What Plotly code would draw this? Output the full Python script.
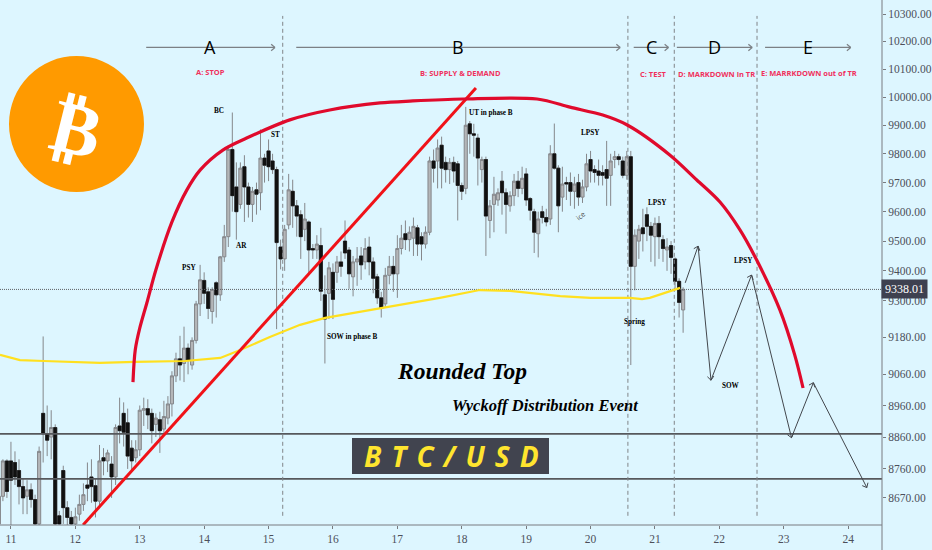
import math
import numpy as np
import plotly.graph_objects as go

# ---------- data ----------
first_day = 10.8125
candle_step_days = 1.5 / 24
opens = [
8590,8675,8785,8785,8780,8755,8705,8675,8695,8665,
8590,8935,8870,8860,8890,8615,8755,8640,8610,8590,
8620,8650,8710,8735,8708,8660,8795,8785,8775,8735,
8895,8935,8905,8825,8795,8820,8945,8950,8935,8900,
8915,8885,8920,8965,9055,9110,9095,9145,9090,9170,
9290,9368,9330,9265,9360,9320,9447,9515,9815,9685,
9625,9755,9685,9625,9675,9665,9785,9810,9775,9745,
9480,9440,9555,9670,9620,9590,9540,9565,9475,9470,
9485,9320,9325,9395,9395,9430,9500,9470,9380,9430,
9450,9430,9480,9430,9380,9310,9290,9385,9415,9390,
9475,9525,9505,9510,9545,9515,9490,9530,9775,9775,
9830,9770,9745,9770,9765,9690,9680,9905,9870,9855,
9745,9780,9570,9625,9640,9705,9665,9620,9655,9705,
9680,9730,9645,9600,9525,9600,9580,9575,9800,9750,
9650,9700,9700,9670,9700,9650,9685,9780,9745,9740,
9735,9745,9725,9780,9790,9775,9725,9790,9415,9500,
9545,9590,9550,9515,9560,9505,9470,9485,9440,9365,9270]
highs = [
8690,8790,8790,8845,8815,8790,8730,8725,8715,8680,
8830,9183,8960,8945,8900,8630,8770,8660,8630,8640,
8680,8715,8780,8790,8730,8835,8825,8820,8800,8900,
8985,8970,8950,8850,8850,8960,8985,8980,8950,8935,
8940,8975,8990,9070,9130,9185,9215,9160,9180,9300,
9420,9395,9345,9345,9365,9450,9555,9830,9945,9770,
9770,9795,9700,9685,9700,9885,9800,9850,9800,9755,
9505,9555,9730,9710,9640,9605,9630,9570,9490,9520,
9545,9385,9430,9425,9450,9465,9570,9480,9450,9480,
9480,9510,9515,9445,9390,9330,9410,9450,9450,9520,
9555,9570,9550,9580,9555,9530,9550,9790,9815,9850,
9860,9790,9785,9790,9775,9700,9965,9915,9905,9870,
9790,9790,9640,9720,9680,9740,9680,9670,9730,9740,
9755,9750,9650,9610,9600,9620,9610,9830,9906,9760,
9755,9720,9735,9720,9730,9710,9800,9810,9760,9780,
9760,9845,9800,9810,9800,9790,9810,9810,9540,9555,
9610,9615,9565,9580,9585,9520,9510,9500,9445,9375,9345]
lows = [
8585,8660,8670,8585,8710,8650,8620,8620,8640,8580,
8585,8780,8800,8790,8580,8580,8590,8580,8585,8585,
8600,8630,8660,8655,8610,8640,8740,8750,8670,8710,
8840,8830,8760,8750,8780,8800,8895,8885,8840,8860,
8810,8865,8900,8925,9035,9040,9035,9060,9075,9160,
9250,9290,9240,9225,9245,9300,9430,9480,9600,9505,
9610,9565,9580,9565,9590,9605,9700,9705,9730,9207,
9405,9400,9540,9545,9515,9440,9500,9390,9440,9440,
9300,9095,9240,9240,9360,9380,9440,9340,9315,9350,
9370,9405,9385,9325,9290,9245,9280,9355,9330,9310,
9455,9470,9465,9450,9450,9435,9475,9520,9700,9680,
9680,9700,9695,9700,9570,9640,9660,9800,9790,9690,
9700,9450,9510,9530,9620,9590,9525,9600,9620,9650,
9660,9620,9570,9460,9445,9560,9550,9555,9745,9530,
9600,9640,9620,9610,9620,9630,9670,9700,9700,9690,
9690,9620,9620,9750,9760,9715,9710,9090,9335,9440,
9465,9500,9430,9415,9440,9430,9400,9390,9340,9245,9195]
closes = [
8675,8785,8690,8725,8735,8705,8670,8695,8665,8590,
8815,8870,8850,8890,8590,8590,8640,8610,8590,8612,
8650,8680,8700,8705,8660,8785,8785,8810,8735,8890,
8880,8875,8800,8785,8820,8945,8950,8930,8880,8920,
8880,8925,8965,9055,9110,9090,9145,9105,9170,9290,
9370,9325,9275,9338,9320,9447,9515,9815,9655,9600,
9750,9685,9625,9670,9660,9785,9760,9755,9745,9495,
9440,9540,9675,9620,9585,9515,9575,9470,9470,9490,
9332,9240,9410,9305,9430,9415,9460,9390,9430,9440,
9420,9475,9430,9375,9310,9275,9385,9415,9390,9475,
9510,9505,9530,9550,9490,9490,9530,9775,9750,9820,
9750,9745,9770,9740,9690,9670,9900,9870,9865,9785,
9780,9585,9620,9660,9665,9665,9625,9655,9705,9680,
9715,9640,9605,9530,9575,9580,9565,9800,9750,9620,
9695,9695,9670,9695,9650,9685,9765,9740,9735,9725,
9725,9715,9775,9790,9780,9725,9790,9415,9520,9540,
9525,9550,9520,9560,9515,9475,9480,9445,9365,9295,9338.01]

ma_days = [10.83,11.14,11.51,12.38,12.93,13.70,14.25,14.56,15.02,15.49,15.88,16.89,17.66,18.28,18.75,19.53,20.0,20.61,20.80,20.92,21.39]
ma_prices = [9123,9106,9103,9097,9100,9103,9113,9139,9181,9221,9244,9280,9310,9336,9333,9316,9310,9310,9306,9310,9343]

round_days = [12.895,12.93,13.0,13.11,13.25,13.50,13.73,13.94,14.29,14.66,15.33,15.95,16.73,17.24,18.02,19.17,19.68,20.19,20.57,21.23,21.65,22.01,22.32,22.58,22.94,23.17,23.30]
round_prices = [9035,9139,9210,9293,9403,9565,9674,9744,9813,9855,9919,9954,9979,9986,9993,9993,9964,9936,9901,9796,9709,9633,9538,9436,9270,9123,9016]

trend_days = [12.12,18.22]
trend_prices = [8587,10032]
level_prices = [8870,8729]
phase_days = [15.22,20.58,21.30,22.585]
phase_span = [8615,10293]
phase_arrow_price = 10178
phase_arrows = [(13.10,15.10),(15.43,20.46),(20.67,21.21),(21.34,22.51),(22.71,24.04)]
path_days = [21.47,21.67,21.87,22.50,23.12,23.46,24.29]
path_prices = [9360,9483,9041,9386,8858,9033,8702]

price_ticks = [10300,10200,10100,10000,9900,9800,9700,9600,9500,9400,9300,9180,9060,8960,8860,8760,8670]
day_ticks = list(range(11,25))

phase_letters = ["A","B","C","D","E"]
phase_titles = ["A: STOP","B: SUPPLY &amp; DEMAND","C: TEST","D: MARKDOWN in TR","E: MARRKDOWN out of TR"]
event_labels = ["BC","ST","PSY","AR","SOW in phase B","UT in phase B","LPSY","LPSY","LPSY","Spring","SOW"]

# ---------- scales ----------
W, H = 882, 525
X0, X1 = 10.83, 10.83 + W/64.4
PXD = W/(X1-X0)
PXL = 2809.0
P_TOP = 10300*math.exp(14/PXL)
P_BOT = 10300*math.exp(-511/PXL)
xs = [first_day + i*candle_step_days for i in range(len(opens))]

def head(x0,p0,x1,p1,size=5.0):
    dx=(x1-x0)*PXD; dy=(math.log(p1)-math.log(p0))*PXL
    a=math.atan2(dy,dx)
    hx=[];hy=[]
    for s in (1,-1):
        b=a+math.pi-s*0.7
        hx+= [x1+size*math.cos(b)/PXD, x1, None]
        hy+= [p1*math.exp(size*math.sin(b)/PXL), p1, None]
    return hx,hy

fig=go.Figure()
# wicks and up bodies
fig.add_trace(go.Candlestick(x=xs,open=opens,high=highs,low=lows,close=closes,
    increasing=dict(line=dict(color="#85878b",width=1),fillcolor="#b4b6b8"),
    decreasing=dict(line=dict(color="#85878b",width=1),fillcolor="#111111"),
    whiskerwidth=0,showlegend=False,hoverinfo="skip"))
# down bodies
dx=[x for x,o,c in zip(xs,opens,closes) if c<o]
do=[o for o,c in zip(opens,closes) if c<o]
dc=[c for o,c in zip(opens,closes) if c<o]
fig.add_trace(go.Candlestick(x=dx,open=do,high=do,low=dc,close=dc,
    decreasing=dict(line=dict(color="#111111",width=0.6),fillcolor="#111111"),
    increasing=dict(line=dict(color="#111111",width=0.6),fillcolor="#111111"),
    whiskerwidth=0,showlegend=False,hoverinfo="skip"))

# levels
for p in level_prices:
    fig.add_trace(go.Scatter(x=[X0,X1],y=[p,p],mode="lines",line=dict(color="#56585c",width=1.6),showlegend=False,hoverinfo="skip"))
# last price line
fig.add_trace(go.Scatter(x=[X0,X1],y=[closes[-1]]*2,mode="lines",line=dict(color="#5f6166",width=1,dash="1px,1px"),showlegend=False,hoverinfo="skip"))
# phases
for d in phase_days:
    fig.add_trace(go.Scatter(x=[d,d],y=phase_span,mode="lines",line=dict(color="#808488",width=1,dash="4px,3px"),showlegend=False,hoverinfo="skip"))
ax=[];ay=[]
for a,b in phase_arrows:
    ax+=[a,b,None];ay+=[phase_arrow_price,phase_arrow_price,None]
    hx,hy=head(a,phase_arrow_price,b,phase_arrow_price,5)
    ax+=hx;ay+=hy
fig.add_trace(go.Scatter(x=ax,y=ay,mode="lines",line=dict(color="#7c8085",width=1.2),showlegend=False,hoverinfo="skip",connectgaps=False))
# moving average
fig.add_trace(go.Scatter(x=ma_days,y=ma_prices,mode="lines",line=dict(color="#ffe01f",width=2.2),showlegend=False,hoverinfo="skip"))
# trend + rounded top
fig.add_trace(go.Scatter(x=trend_days,y=trend_prices,mode="lines",line=dict(color="#f01218",width=3),showlegend=False,hoverinfo="skip"))
fig.add_trace(go.Scatter(x=round_days,y=round_prices,mode="lines",line=dict(color="#e00a2c",width=3.2,shape="spline",smoothing=0.9),showlegend=False,hoverinfo="skip"))
# projected path
zx=[];zy=[]
for i in range(len(path_days)-1):
    zx+=[path_days[i],path_days[i+1],None];zy+=[path_prices[i],path_prices[i+1],None]
    hx,hy=head(path_days[i],path_prices[i],path_days[i+1],path_prices[i+1],5)
    zx+=hx;zy+=hy
fig.add_trace(go.Scatter(x=zx,y=zy,mode="lines",line=dict(color="#43474d",width=1),showlegend=False,hoverinfo="skip"))

def fx(px): return px/W
def fy(py): return 1-py/H
def text(t,px,py,size,color="#000",family="Liberation Serif",**kw):
    fig.add_annotation(text=t,x=fx(px),y=fy(py),xref="paper",yref="paper",showarrow=False,
        font=dict(size=size,color=color,family=family),xanchor="center",yanchor="middle",**kw)

for t,(px,py) in zip(phase_letters,[(210,47),(458,47),(651,47),(714,47),(808,47)]):
    text(t,px,py,18,"#000","Open Sans")
for t,(px,py) in zip(phase_titles,[(210,72),(461,73),(653,74),(716,74),(809,73)]):
    text("<b>"+t+"</b>",px,py,7.5,"#f0305c","Open Sans")
label_pos=[(219,111),(275,135),(189,268),(241,246),(352,337),(491,113),(590,133),(657,203),(743,261),(634,322),(731,386)]
for t,(px,py) in zip(event_labels,label_pos):
    text("<b>"+t+"</b>",px,py,7.2)
text("ice",580,216,7,"#444","Open Sans",textangle=-40)
text("<b><i>Rounded Top</i></b>",462,371,23.5)
text("<b><i>Wyckoff Distribution Event</i></b>",545,405,16.5)

# BTC/USD box
fig.add_shape(type="rect",xref="paper",yref="paper",x0=fx(352),x1=fx(549),y0=fy(438),y1=fy(474),fillcolor="#41444f",line=dict(width=0),layer="above")
text("<b><i>B\u00a0\u200aT\u00a0\u200aC\u00a0\u200a/\u00a0\u200aU\u00a0\u200aS\u00a0\u200aD</i></b>",451,456,28,"#ffe52e","Open Sans")

# logo
fig.add_shape(type="circle",xref="paper",yref="paper",x0=fx(9),x1=fx(144),y0=fy(192),y1=fy(56),fillcolor="#ff9a00",line=dict(width=0),layer="above")
text("<b>₿</b>",76,128,74,"#ffffff","DejaVu Sans",textangle=14)

# last price tag
fig.add_annotation(text=f"{closes[-1]:.2f}",x=(882+22.5)/882,y=math.log10(closes[-1]),xref="paper",yref="y",showarrow=False,
    font=dict(size=12,color="#ffffff",family="Liberation Sans Narrow"),bgcolor="#3e4150",borderpad=2,xanchor="center",yanchor="middle",width=41)
# axis continuation
fig.add_shape(type="line",xref="paper",yref="paper",x0=1,x1=1,y0=fy(550),y1=1,line=dict(color="#787b80",width=1),layer="above")
fig.add_shape(type="line",xref="paper",yref="paper",x0=0,x1=1,y0=0,y1=0,line=dict(color="#787b80",width=1),layer="above")

fig.update_layout(width=932,height=550,margin=dict(l=0,r=50,t=0,b=25,pad=0,autoexpand=False),autosize=False,boxgap=0.22,boxgroupgap=0,
    paper_bgcolor="#ddf6ff",plot_bgcolor="#ddf6ff",showlegend=False,dragmode=False,
    xaxis=dict(range=[X0,X1],type="linear",rangeslider=dict(visible=False),showgrid=False,zeroline=False,
        tickmode="array",tickvals=day_ticks,ticktext=[str(d) for d in day_ticks],ticks="outside",ticklen=3,tickcolor="#787b80",automargin=False,
        tickfont=dict(size=11.5,color="#4c4f5a",family="Liberation Sans Narrow"),showline=False),
    yaxis=dict(type="log",range=[math.log10(P_BOT),math.log10(P_TOP)],side="right",showgrid=False,zeroline=False,automargin=False,
        tickmode="array",tickvals=price_ticks,ticktext=[f"{p:.2f}" for p in price_ticks],ticks="outside",ticklen=3,tickcolor="#787b80",
        tickfont=dict(size=11.5,color="#4c4f5a",family="Liberation Sans Narrow"),showline=False))
fig.write_html("out.html",config=dict(displayModeBar=False),post_script="document.documentElement.style.margin='0';document.body.style.margin='0';document.body.style.background='#ddf6ff';document.documentElement.style.overflow='hidden';")
